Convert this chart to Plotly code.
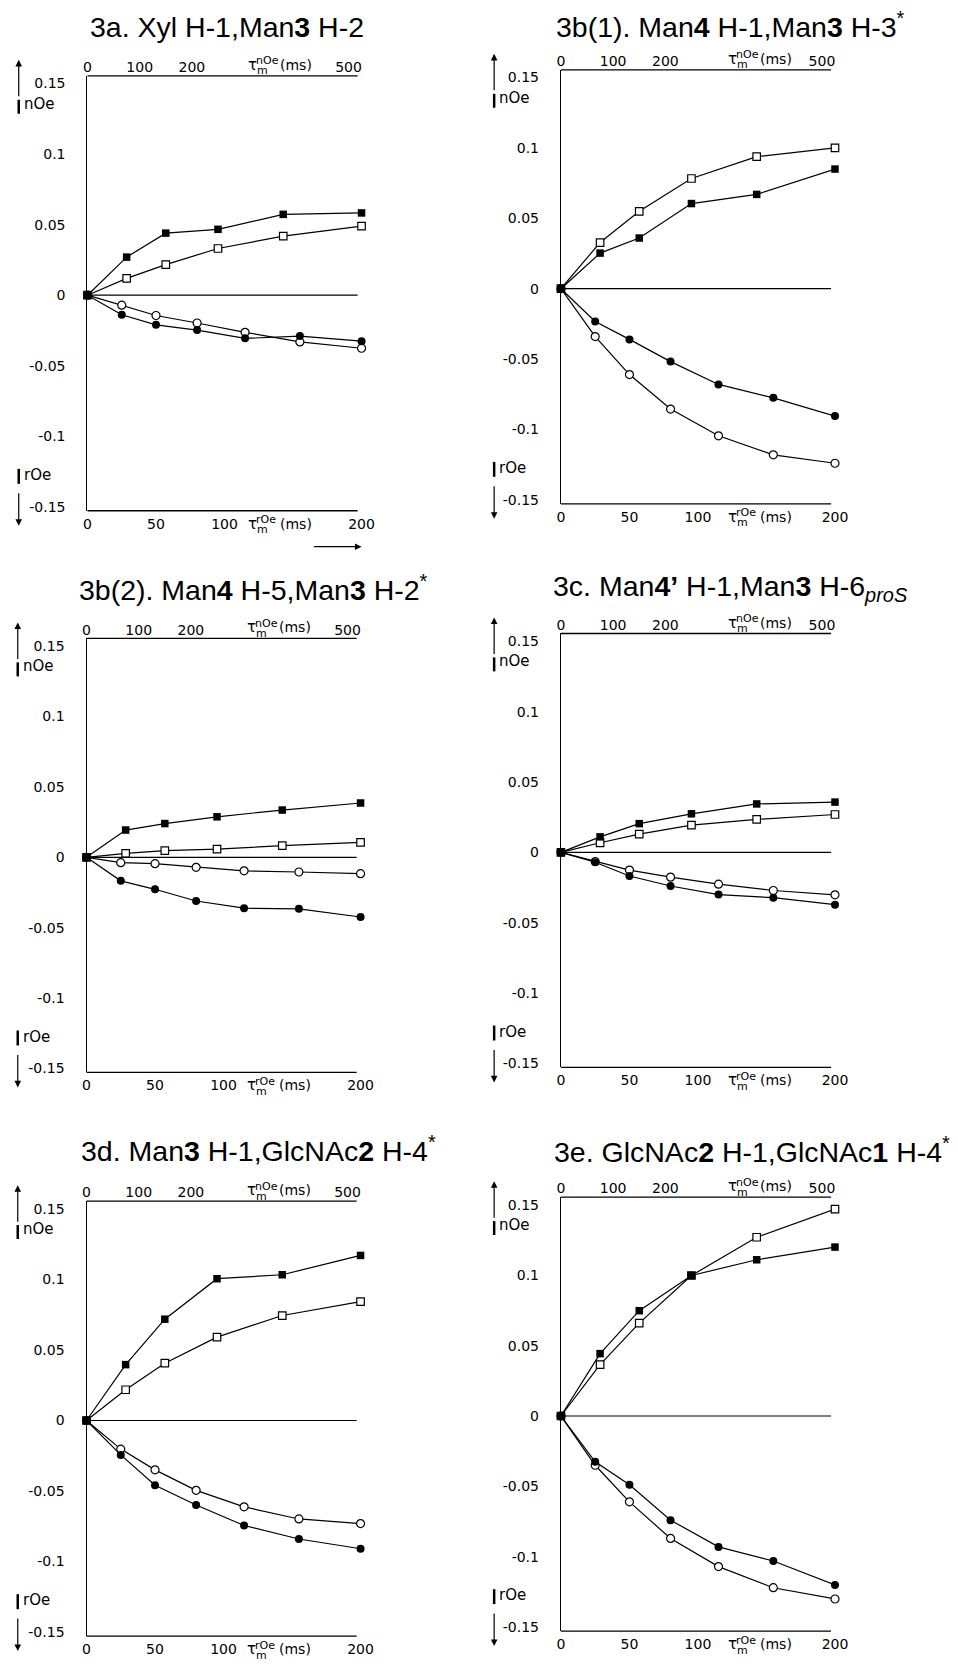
import plotly.graph_objects as go

W, H = 958, 1666

# ---------------- data ----------------
t_noe = [0, 75, 150, 250, 375, 525]          # nOe mixing times (ms), top axis
t_roe = [0, 25, 50, 80, 115, 155, 200]       # rOe mixing times (ms), bottom axis

titles = [
    "3a. Xyl H-1,Man<b>3</b> H-2",
    "3b(1). Man<b>4</b> H-1,Man<b>3</b> H-3<sup>*</sup>",
    "3b(2). Man<b>4</b> H-5,Man<b>3</b> H-2<sup>*</sup>",
    "3c. Man<b>4’</b> H-1,Man<b>3</b> H-6<sub><i>proS</i></sub>",
    "3d. Man<b>3</b> H-1,GlcNAc<b>2</b> H-4<sup>*</sup>",
    "3e. GlcNAc<b>2</b> H-1,GlcNAc<b>1</b> H-4<sup>*</sup>",
]

noe_filled = [
    [0, 0.027, 0.044, 0.0467, 0.0573, 0.0583],
    [0, 0.0253, 0.036, 0.0605, 0.067, 0.085],
    [0, 0.0194, 0.024, 0.0288, 0.0336, 0.0386],
    [0, 0.011, 0.0204, 0.0274, 0.0344, 0.0357],
    [0, 0.0396, 0.0718, 0.1005, 0.1033, 0.117],
    [0, 0.0443, 0.0748, 0.0998, 0.111, 0.12],
]
noe_open = [
    [0, 0.0119, 0.0217, 0.0331, 0.0419, 0.049],
    [0, 0.0328, 0.055, 0.0783, 0.0938, 0.1],
    [0, 0.0028, 0.0048, 0.0058, 0.0083, 0.0106],
    [0, 0.0068, 0.013, 0.0193, 0.0234, 0.0269],
    [0, 0.0218, 0.0406, 0.0591, 0.0744, 0.0843],
    [0, 0.0365, 0.066, 0.0998, 0.127, 0.147],
]
roe_filled = [
    [0, -0.0139, -0.021, -0.0247, -0.0306, -0.029, -0.0326],
    [0, -0.0233, -0.036, -0.0518, -0.068, -0.0775, -0.0905],
    [0, -0.0167, -0.0227, -0.031, -0.0361, -0.0366, -0.0424],
    [0, -0.007, -0.0168, -0.0239, -0.03, -0.0322, -0.0372],
    [0, -0.0244, -0.0459, -0.0599, -0.0744, -0.084, -0.0909],
    [0, -0.0325, -0.0488, -0.074, -0.093, -0.103, -0.12],
]
roe_open = [
    [0, -0.0071, -0.0144, -0.0197, -0.0263, -0.0331, -0.0376],
    [0, -0.034, -0.061, -0.0855, -0.1045, -0.118, -0.124],
    [0, -0.0038, -0.0045, -0.0071, -0.0096, -0.0104, -0.0116],
    [0, -0.0065, -0.0126, -0.0176, -0.0226, -0.0271, -0.0302],
    [0, -0.0203, -0.035, -0.0495, -0.0612, -0.0698, -0.0731],
    [0, -0.035, -0.061, -0.087, -0.107, -0.122, -0.13],
]

y_ticks = [0.15, 0.1, 0.05, 0, -0.05, -0.1, -0.15]
y_ticktext = ["0.15", "0.1", "0.05", "0", "-0.05", "-0.1", "-0.15"]
bot_ticks = [0, 50, 100, 200]
top_ticks = [0, 100, 200, 500]

# ---------------- layout geometry (pixels) ----------------
# (left, top, bottom) of each plot frame; frame lines are 275 px long,
# the data area is 279 px wide (last points sit just past the line ends)
frames = [
    (85, 76, 512),
    (567, 70, 505),
    (84, 640, 1075),
    (567, 635, 1070),
    (84, 1204, 1640),
    (567, 1200, 1635),
]
LINE_LEN = 275
DATA_W = 279
title_pos = [(227, 27), (740, 25), (254, 589), (740, 589), (259, 1152), (762, 1153)]

def px(x):
    return x / W

def py(y):
    return 1 - y / H

TICKFONT = dict(family="DejaVu Sans", size=14, color="black")
TITLEFONT = dict(family="Liberation Sans, Arial", size=28.5, color="black")
LW = 1.3

fig = go.Figure()
layout = dict(
    width=W, height=H, margin=dict(l=0, r=0, t=0, b=0),
    paper_bgcolor="white", plot_bgcolor="white", showlegend=False,
)
annotations = []
shapes = []

for i in range(6):
    k = i + 1
    kt = i + 7
    l, t, b = frames[i]
    xb = "x" if k == 1 else f"x{k}"
    xt = f"x{kt}"
    ya = "y" if k == 1 else f"y{k}"

    layout["xaxis" if k == 1 else f"xaxis{k}"] = dict(
        domain=[px(l), px(l + DATA_W)], range=[0, 200], anchor=ya,
        showline=False, showgrid=False, zeroline=False, ticks="",
        tickvals=bot_ticks, tickfont=TICKFONT, ticklabelstandoff=3,
    )
    layout[f"xaxis{kt}"] = dict(
        overlaying=xb, side="top", anchor=ya, range=[0, 525],
        showline=False, showgrid=False, zeroline=False, ticks="",
        tickvals=top_ticks, tickfont=TICKFONT, ticklabelstandoff=0,
    )
    layout["yaxis" if k == 1 else f"yaxis{k}"] = dict(
        domain=[py(b), py(t)], range=[-0.1528, 0.1555], anchor=xb,
        showline=True, linecolor="black", linewidth=LW,
        showgrid=False, zeroline=False,
        ticks="", tickvals=y_ticks, ticktext=y_ticktext,
        tickfont=TICKFONT, ticklabelstandoff=18,
    )

    # frame lines: top, bottom, zero
    for yy in (t, b):
        shapes.append(dict(type="line", xref="paper", yref="paper",
                           x0=px(l), x1=px(l + LINE_LEN), y0=py(yy), y1=py(yy),
                           line=dict(color="black", width=LW)))
    shapes.append(dict(type="line", xref="paper", yref=ya,
                       x0=px(l), x1=px(l + LINE_LEN), y0=0, y1=0,
                       line=dict(color="black", width=1.2)))

    line = dict(color="black", width=1.2)
    fig.add_trace(go.Scatter(x=t_noe, y=noe_open[i], xaxis=xt, yaxis=ya,
                             mode="lines+markers", line=line, cliponaxis=False,
                             marker=dict(symbol="square", size=7.5, color="white",
                                         line=dict(color="black", width=1.2))))
    fig.add_trace(go.Scatter(x=t_noe, y=noe_filled[i], xaxis=xt, yaxis=ya,
                             mode="lines+markers", line=line, cliponaxis=False,
                             marker=dict(symbol="square", size=7.5, color="black")))
    fig.add_trace(go.Scatter(x=t_roe, y=roe_open[i], xaxis=xb, yaxis=ya,
                             mode="lines+markers", line=line, cliponaxis=False,
                             marker=dict(symbol="circle", size=8, color="white",
                                         line=dict(color="black", width=1.2))))
    fig.add_trace(go.Scatter(x=t_roe, y=roe_filled[i], xaxis=xb, yaxis=ya,
                             mode="lines+markers", line=line, cliponaxis=False,
                             marker=dict(symbol="circle", size=8, color="black")))

    # title
    tx, ty = title_pos[i]
    annotations.append(dict(text=titles[i], x=px(tx), y=py(ty), xref="paper", yref="paper",
                            xanchor="center", yanchor="middle", showarrow=False, font=TITLEFONT))

    # tau labels (top: nOe, bottom: rOe)
    off = 161 if l < 400 else 168
    for (axis, scale, ycen, sup) in [(xt, DATA_W / 525, t - 11, "nOe"),
                                     (xb, DATA_W / 200, b + 13, "rOe")]:
        xv = off / scale
        annotations.append(dict(text="τ", x=xv, y=py(ycen), xref=axis, yref="paper",
                                xanchor="left", yanchor="middle", showarrow=False,
                                font=dict(family="DejaVu Sans", size=15, color="black")))
        annotations.append(dict(text=sup, x=xv, y=py(ycen - 4), xref=axis, yref="paper",
                                xanchor="left", yanchor="middle", showarrow=False, xshift=8,
                                font=dict(family="DejaVu Sans", size=11, color="black")))
        annotations.append(dict(text="m", x=xv, y=py(ycen + 6), xref=axis, yref="paper",
                                xanchor="left", yanchor="middle", showarrow=False, xshift=9,
                                font=dict(family="DejaVu Sans", size=11, color="black")))
        annotations.append(dict(text="(ms)", x=xv, y=py(ycen), xref=axis, yref="paper",
                                xanchor="left", yanchor="middle", showarrow=False, xshift=32,
                                font=TICKFONT))

    # left-side nOe / rOe indicators
    ax_x = l - 70 if l < 400 else l - 68
    annotations.append(dict(text="", x=px(ax_x), y=py(t - 16), xref="paper", yref="paper",
                            showarrow=True, ax=0, ay=38, arrowhead=2, arrowsize=1.1,
                            arrowwidth=1.2, arrowcolor="black"))
    annotations.append(dict(text="", x=px(ax_x), y=py(b + 15), xref="paper", yref="paper",
                            showarrow=True, ax=0, ay=-34, arrowhead=2, arrowsize=1.1,
                            arrowwidth=1.2, arrowcolor="black"))
    shapes.append(dict(type="line", xref="paper", yref="paper",
                       x0=px(ax_x), x1=px(ax_x), y0=py(t + 24), y1=py(t + 38),
                       line=dict(color="black", width=2.5)))
    shapes.append(dict(type="line", xref="paper", yref="paper",
                       x0=px(ax_x), x1=px(ax_x), y0=py(b - 42), y1=py(b - 27),
                       line=dict(color="black", width=2.5)))
    annotations.append(dict(text="nOe", x=px(ax_x + 3), y=py(t + 28), xref="paper", yref="paper",
                            xanchor="left", yanchor="middle", showarrow=False,
                            font=dict(family="DejaVu Sans", size=15, color="black")))
    annotations.append(dict(text="rOe", x=px(ax_x + 3), y=py(b - 36), xref="paper", yref="paper",
                            xanchor="left", yanchor="middle", showarrow=False,
                            font=dict(family="DejaVu Sans", size=15, color="black")))

# horizontal arrow under panel 3a
annotations.append(dict(text="", x=px(364), y=py(548), xref="paper", yref="paper",
                        showarrow=True, ax=-49, ay=0, arrowhead=2, arrowsize=1.1,
                        arrowwidth=1.2, arrowcolor="black"))

layout["annotations"] = annotations
layout["shapes"] = shapes
fig.update_layout(**layout)
fig.write_html("out.html", config={"displayModeBar": False},
               post_script="document.body.style.margin='0';document.body.style.overflow='hidden';")
